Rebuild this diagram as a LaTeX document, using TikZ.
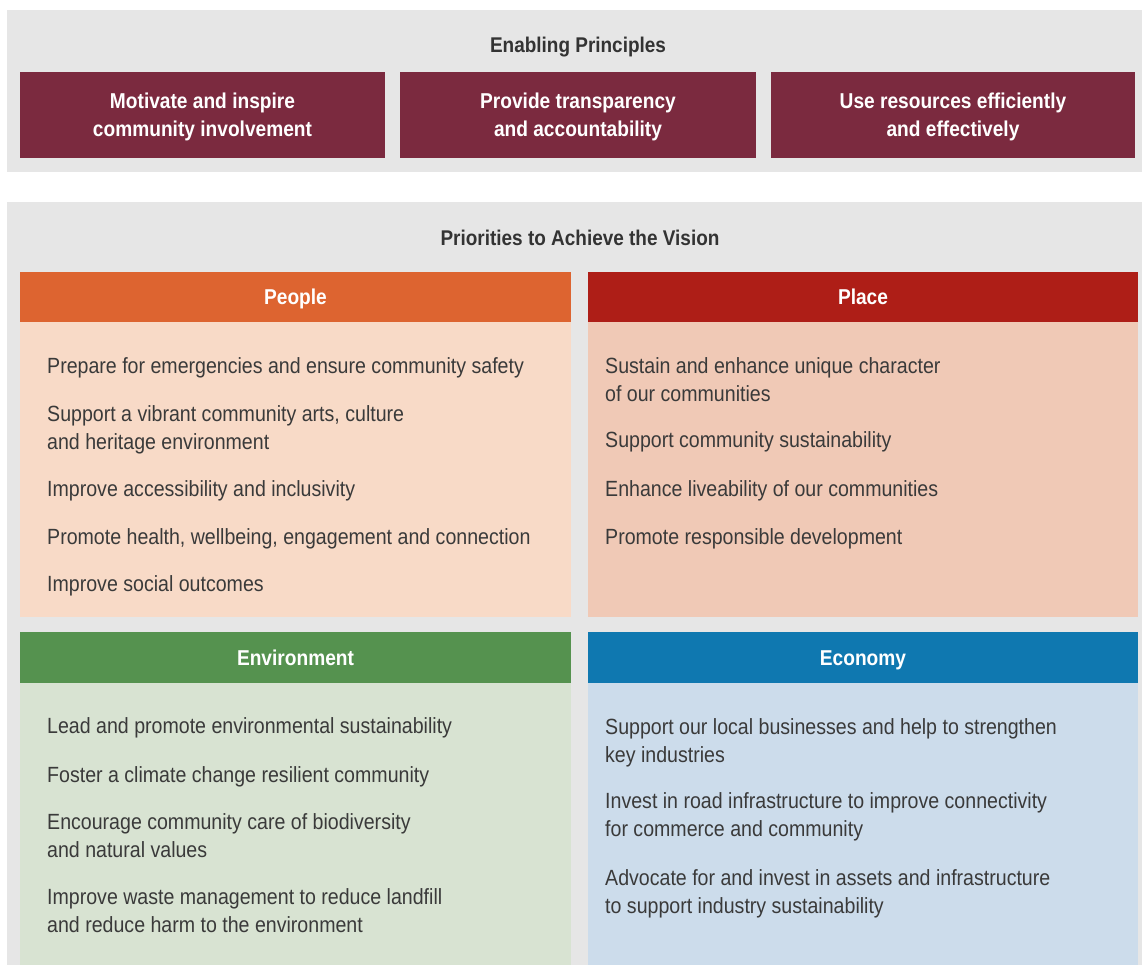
\documentclass[tikz,border=0pt]{standalone}
\usepackage{fontspec}
\setmainfont{Liberation Sans}[FakeStretch=0.89]
\definecolor{panelgrey}{HTML}{E6E6E6}
\definecolor{maroon}{HTML}{7B2A3F}
\definecolor{peoplehd}{HTML}{DD6430}
\definecolor{peoplebd}{HTML}{F8DAC7}
\definecolor{placehd}{HTML}{AE1E17}
\definecolor{placebd}{HTML}{F0C9B6}
\definecolor{envhd}{HTML}{55924F}
\definecolor{envbd}{HTML}{D8E3D2}
\definecolor{ecohd}{HTML}{0F78B0}
\definecolor{ecobd}{HTML}{CCDCEB}
\definecolor{bodytext}{HTML}{3A3A3A}
\definecolor{titletext}{HTML}{333333}
\tikzset{
  principle/.style={fill=maroon, draw=none, inner sep=0pt},
  principletext/.style={text=white, align=center, inner sep=0pt,
    font=\bfseries\fontsize{21.5}{28}\selectfont},
  hdr/.style={draw=none, text=white, inner sep=0pt, text height=15pt, text depth=0pt,
    font=\bfseries\fontsize{21.5}{28}\selectfont},
  bodybox/.style={draw=none, inner sep=0pt},
  title/.style={text=titletext, inner sep=0pt, anchor=base,
    font=\bfseries\fontsize{21.3}{26}\selectfont},
  item/.style={text=bodytext, inner sep=0pt, anchor=base west, align=left,
    font=\fontsize{22}{28}\selectfont},
}
\begin{document}
\begin{tikzpicture}[x=1pt,y=-1pt]
\useasboundingbox[fill=white] (0,0) rectangle (1142,965);
% panels
\fill[panelgrey] (7,10) rectangle (1142,172);
\fill[panelgrey] (7,202) rectangle (1142,965);
\node[title] (ep) at (578,52.5) {Enabling Principles};
\node[principle, minimum width=365pt, minimum height=86pt] (p1) at (202.5,115) {};
\node[principle, minimum width=356pt, minimum height=86pt] (p2) at (578,115) {};
\node[principle, minimum width=364pt, minimum height=86pt] (p3) at (953,115) {};
\node[principletext] (p1t) at ([yshift=-2pt]p1.center) {Motivate and inspire\\community involvement};
\node[principletext] (p2t) at ([yshift=-2pt]p2.center) {Provide transparency\\and accountability};
\node[principletext] (p3t) at ([yshift=-2pt]p3.center) {Use resources efficiently\\and effectively};
% People
\node[hdr, fill=peoplehd, minimum width=551pt, minimum height=50pt] (hpeople) at (295.5,297) {People};
\node[bodybox, fill=peoplebd, minimum width=551pt, minimum height=295pt, anchor=north] (bpeople) at (hpeople.south) {};
% Place
\node[hdr, fill=placehd, minimum width=550pt, minimum height=50pt] (hplace) at (863,297) {Place};
\node[bodybox, fill=placebd, minimum width=550pt, minimum height=295pt, anchor=north] (bplace) at (hplace.south) {};
% Environment
\node[hdr, fill=envhd, minimum width=551pt, minimum height=51pt] (henv) at (295.5,657.5) {Environment};
\node[bodybox, fill=envbd, minimum width=551pt, minimum height=282pt, anchor=north] (benv) at (henv.south) {};
% Economy
\node[hdr, fill=ecohd, minimum width=550pt, minimum height=51pt] (heco) at (863,657.5) {Economy};
\node[bodybox, fill=ecobd, minimum width=550pt, minimum height=282pt, anchor=north] (beco) at (heco.south) {};
\node[title] (pv) at (580,245.5) {Priorities to Achieve the Vision};
% People items
\node[item] (pe1) at (47,373) {Prepare for emergencies and ensure community safety};
\node[item] (pe2) at (47,449) {Support a vibrant community arts, culture\\and heritage environment};
\node[item] (pe3) at (47,496) {Improve accessibility and inclusivity};
\node[item] (pe4) at (47,544) {Promote health, wellbeing, engagement and connection};
\node[item] (pe5) at (47,591) {Improve social outcomes};
% Place items
\node[item] (pl1) at (605,401) {Sustain and enhance unique character\\of our communities};
\node[item] (pl2) at (605,447) {Support community sustainability};
\node[item] (pl3) at (605,496) {Enhance liveability of our communities};
\node[item] (pl4) at (605,544) {Promote responsible development};
% Environment items
\node[item] (en1) at (47,733) {Lead and promote environmental sustainability};
\node[item] (en2) at (47,782) {Foster a climate change resilient community};
\node[item] (en3) at (47,857) {Encourage community care of biodiversity\\and natural values};
\node[item] (en4) at (47,932) {Improve waste management to reduce landfill\\and reduce harm to the environment};
% Economy items
\node[item] (ec1) at (605,762) {Support our local businesses and help to strengthen\\key industries};
\node[item] (ec2) at (605,836) {Invest in road infrastructure to improve connectivity\\for commerce and community};
\node[item] (ec3) at (605,913) {Advocate for and invest in assets and infrastructure\\to support industry sustainability};
\end{tikzpicture}
\end{document}
